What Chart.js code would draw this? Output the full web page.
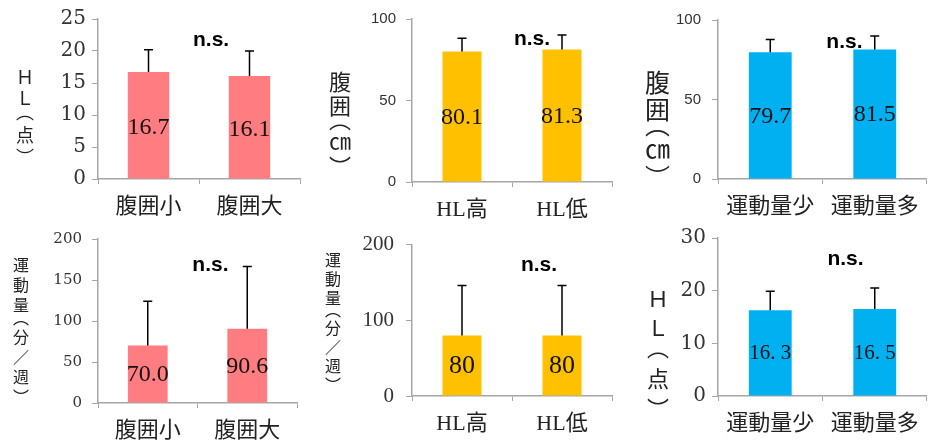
<!DOCTYPE html>
<html>
<head>
<meta charset="utf-8">
<script src="https://cdn.jsdelivr.net/npm/chart.js@4/dist/chart.umd.min.js"></script>
<style>
  body { margin: 0; background: #fff; }
  #wrap { position: relative; width: 929px; height: 441px; overflow: hidden; }
  .panel { position: absolute; }
  .ytitle {
    position: absolute;
    writing-mode: vertical-rl;
    font-family: "Noto Sans CJK JP", sans-serif;
    color: #222;
    font-feature-settings: "vpal";
    white-space: nowrap;
    line-height: 1;
  }
</style>
</head>
<body>
<div id="wrap"></div>
<script>
// categories
const catWaist = ['腹囲小', '腹囲大'];
const catHL = ['HL高', 'HL低'];
const catExercise = ['運動量少', '運動量多'];

// means and SD
const hlByWaist = [16.7, 16.1];
const hlByWaistSd = [3.5, 3.9];
const waistByHL = [80.1, 81.3];
const waistByHLSd = [8.1, 8.9];
const waistByExercise = [79.7, 81.5];
const waistByExerciseSd = [8.0, 8.5];
const exerciseByWaist = [70.0, 90.6];
const exerciseByWaistSd = [54, 76];
const exerciseByHL = [80, 80];
const exerciseByHLSd = [66, 66];
const hlByExercise = [16.3, 16.5];
const hlByExerciseSd = [3.6, 4.0];

// value labels as printed on the bars
const hlByWaistText = ['16.7', '16.1'];
const waistByHLText = ['80.1', '81.3'];
const waistByExerciseText = ['79.7', '81.5'];
const exerciseByWaistText = ['70.0', '90.6'];
const exerciseByHLText = ['80', '80'];
const hlByExerciseText = ['16. 3', '16. 5'];

const PINK = '#FF7C80';
const GOLD = '#FFC000';
const BLUE = '#00B0F0';
const AXIS = '#A6A6A6';
const SERIF = '"Liberation Serif", "Noto Sans CJK JP", serif';
const WIDE_SERIF = '"DejaVu Serif", serif';
const SANS = '"Liberation Sans", Arial, sans-serif';

Chart.defaults.animation = false;

// error bars, in-bar values and "n.s." mark
const extrasPlugin = {
    id: 'extras',
    afterDatasetsDraw(chart, args, opts) {
        const ctx = chart.ctx;
        const meta = chart.getDatasetMeta(0);
        const ds = chart.data.datasets[0];
        const xs = chart.scales.x;
        const ys = chart.scales.y;
        ctx.save();
        meta.data.forEach((bar, i) => {
            const top = ys.getPixelForValue(ds.data[i] + opts.sd[i]);
            ctx.strokeStyle = '#000';
            ctx.lineWidth = 1.5;
            ctx.beginPath();
            ctx.moveTo(bar.x, bar.y);
            ctx.lineTo(bar.x, top);
            ctx.moveTo(bar.x - 4.5, top);
            ctx.lineTo(bar.x + 4.5, top);
            ctx.stroke();

            ctx.fillStyle = '#111';
            ctx.font = opts.labelFont;
            ctx.textAlign = 'center';
            ctx.textBaseline = 'middle';
            ctx.fillText(opts.labels[i], bar.x, (bar.y + bar.base) / 2 + opts.labelShift);
        });
        ctx.fillStyle = '#000';
        ctx.font = 'bold 21px ' + SANS;
        ctx.textAlign = 'center';
        ctx.textBaseline = 'middle';
        ctx.fillText('n.s.', xs.getPixelForValue(opts.ns[0]), ys.getPixelForValue(opts.ns[1]));
        ctx.restore();
    }
};

const panels = [
    { left: 0, top: 0, w: 310, h: 220, area: [98, 300, 19, 179], cats: catWaist, data: hlByWaist, sd: hlByWaistSd,
      labels: hlByWaistText, color: PINK, max: 25, step: 5, bar: 0.41, tickSize: 20, tickFam: WIDE_SERIF, tickPad: 6,
      labelFont: '24px ' + SERIF, labelShift: 2, ns: [0.62, 21.7],
      title: 'ＨＬ（点）', tx: 25, ty: 69, tsize: 18, tspace: 5 },
    { left: 310, top: 0, w: 310, h: 220, area: [102, 302, 18, 182], cats: catHL, data: waistByHL, sd: waistByHLSd,
      labels: waistByHLText, color: GOLD, max: 100, step: 50, bar: 0.39, tickSize: 15, tickFam: SANS, tickPad: 10,
      labelFont: '24px ' + SERIF, labelShift: 1, ns: [0.70, 87.8],
      title: '腹囲（㎝）', tx: 340, ty: 71, tsize: 22, tspace: 2 },
    { left: 620, top: 0, w: 309, h: 220, area: [98, 308, 17, 179], cats: catExercise, data: waistByExercise, sd: waistByExerciseSd,
      labels: waistByExerciseText, color: BLUE, max: 100, step: 50, bar: 0.41, tickSize: 15, tickFam: SANS, tickPad: 11,
      labelFont: '24px ' + SERIF, labelShift: 1, ns: [0.71, 85.8],
      title: '腹囲（㎝）', tx: 657, ty: 70, tsize: 25, tspace: 2 },
    { left: 0, top: 220, w: 310, h: 221, area: [98, 297, 16, 183], cats: catWaist, data: exerciseByWaist, sd: exerciseByWaistSd,
      labels: exerciseByWaistText, color: PINK, max: 200, step: 50, bar: 0.40, tickSize: 15, tickFam: WIDE_SERIF, tickPad: 10,
      labelFont: '24px ' + SERIF, labelShift: 1, ns: [0.63, 167.7],
      title: '運動量（分／週）', tx: 21, ty: 257, tsize: 16, tspace: 4 },
    { left: 310, top: 220, w: 310, h: 221, area: [102, 302, 16, 176], cats: catHL, data: exerciseByHL, sd: exerciseByHLSd,
      labels: exerciseByHLText, color: GOLD, max: 200, step: 100, bar: 0.39, tickSize: 21, tickFam: SERIF, tickPad: 12,
      labelFont: '26px ' + SERIF, labelShift: 1, ns: [0.77, 172.5],
      title: '運動量（分／週）', tx: 333, ty: 252, tsize: 16, tspace: 3 },
    { left: 620, top: 220, w: 309, h: 221, area: [98, 308, 17, 176], cats: catExercise, data: hlByExercise, sd: hlByExerciseSd,
      labels: hlByExerciseText, color: BLUE, max: 30, step: 10, bar: 0.41, tickSize: 20, tickFam: WIDE_SERIF, tickPad: 6,
      labelFont: '21px ' + SERIF, labelShift: 1, ns: [0.72, 26],
      title: 'ＨＬ（点）', tx: 658, ty: 289, tsize: 22, tspace: 9 }
];

const wrap = document.getElementById('wrap');

panels.forEach(p => {
    const div = document.createElement('div');
    div.className = 'panel';
    div.style.left = p.left + 'px';
    div.style.top = p.top + 'px';
    div.style.width = p.w + 'px';
    div.style.height = p.h + 'px';
    const canvas = document.createElement('canvas');
    canvas.width = p.w;
    canvas.height = p.h;
    div.appendChild(canvas);
    wrap.appendChild(div);

    const [aLeft, aRight, aTop, aBottom] = p.area;

    new Chart(canvas, {
        type: 'bar',
        data: {
            labels: p.cats,
            datasets: [{
                data: p.data,
                backgroundColor: p.color,
                borderWidth: 0,
                barPercentage: p.bar,
                categoryPercentage: 1
            }]
        },
        options: {
            responsive: false,
            devicePixelRatio: 1,
            layout: { padding: { top: aTop, right: p.w - aRight, left: 0, bottom: 0 } },
            plugins: {
                legend: { display: false },
                tooltip: { enabled: false },
                extras: { sd: p.sd, labels: p.labels, labelFont: p.labelFont, labelShift: p.labelShift, ns: p.ns }
            },
            scales: {
                x: {
                    afterFit: s => { s.height = p.h - aBottom; },
                    grid: { display: true, drawOnChartArea: false, drawTicks: true, tickLength: 5, color: AXIS, offset: true },
                    border: { display: true, color: AXIS, width: 1.5 },
                    ticks: { color: '#222', padding: 10, maxRotation: 0, font: { family: SERIF, size: 22 } }
                },
                y: {
                    min: 0,
                    max: p.max,
                    afterFit: s => { s.width = aLeft; },
                    grid: { display: true, drawOnChartArea: false, drawTicks: true, tickLength: 6, color: AXIS },
                    border: { display: true, color: AXIS, width: 1.5 },
                    ticks: { stepSize: p.step, color: '#333', padding: p.tickPad,
                             font: { family: p.tickFam, size: p.tickSize } }
                }
            }
        },
        plugins: [extrasPlugin]
    });

    const t = document.createElement('div');
    t.className = 'ytitle';
    t.textContent = p.title;
    t.style.fontSize = p.tsize + 'px';
    t.style.letterSpacing = p.tspace + 'px';
    t.style.left = (p.tx - p.tsize / 2) + 'px';
    t.style.top = p.ty + 'px';
    wrap.appendChild(t);
});
</script>
</body>
</html>
